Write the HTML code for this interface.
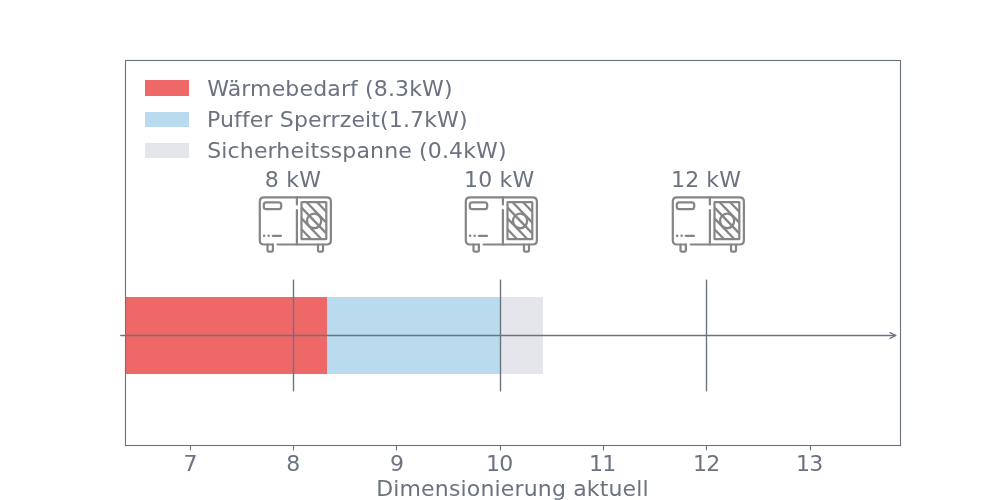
<!DOCTYPE html>
<html lang="de"><head><meta charset="utf-8"><title>Dimensionierung aktuell</title>
<style>
html,body{margin:0;padding:0;background:#fff;}
body{width:1000px;height:500px;overflow:hidden;}
svg{display:block;}
text{letter-spacing:0.14px;font-variant-ligatures:none;font-feature-settings:"liga" 0,"clig" 0;font-family:"DejaVu Sans","Liberation Sans",sans-serif;font-size:22px;fill:#6b7280;}
</style></head><body>
<svg width="1000" height="500" viewBox="0 0 1000 500">
<defs><filter id="ib" x="-10%" y="-10%" width="120%" height="120%"><feGaussianBlur stdDeviation="0.45"/></filter></defs>
<rect width="1000" height="500" fill="#fff"/>

<rect x="125" y="297" width="202" height="77" fill="#ef6868"/>
<rect x="327" y="297" width="173" height="77" fill="#b9dbed"/>
<rect x="500" y="297" width="43" height="77" fill="#e4e6eb"/>
<line x1="190.5" y1="445.5" x2="190.5" y2="450.361" stroke="#6b7280" stroke-width="1.111"/>
<text x="190.40" style="letter-spacing:0.0px" y="471" text-anchor="middle">7</text>
<line x1="293.5" y1="445.5" x2="293.5" y2="450.361" stroke="#6b7280" stroke-width="1.111"/>
<text x="293.23" style="letter-spacing:0.0px" y="471" text-anchor="middle">8</text>
<line x1="396.5" y1="445.5" x2="396.5" y2="450.361" stroke="#6b7280" stroke-width="1.111"/>
<text x="397.07" style="letter-spacing:0.0px" y="471" text-anchor="middle">9</text>
<line x1="500.5" y1="445.5" x2="500.5" y2="450.361" stroke="#6b7280" stroke-width="1.111"/>
<text x="499.15" style="letter-spacing:-0.9px" y="471" text-anchor="middle">10</text>
<line x1="603.5" y1="445.5" x2="603.5" y2="450.361" stroke="#6b7280" stroke-width="1.111"/>
<text x="602.23" style="letter-spacing:-0.8px" y="471" text-anchor="middle">11</text>
<line x1="706.5" y1="445.5" x2="706.5" y2="450.361" stroke="#6b7280" stroke-width="1.111"/>
<text x="706.32" style="letter-spacing:-0.8px" y="471" text-anchor="middle">12</text>
<line x1="810.5" y1="445.5" x2="810.5" y2="450.361" stroke="#6b7280" stroke-width="1.111"/>
<text x="809.15" style="letter-spacing:-0.9px" y="471" text-anchor="middle">13</text>
<text x="512.50" style="letter-spacing:0.16px" y="496" text-anchor="middle">Dimensionierung aktuell</text>
<line x1="293.5" y1="280.291" x2="293.5" y2="390.741" stroke="#6b7280" stroke-width="1.389" stroke-linecap="square"/>
<text x="292.98" style="letter-spacing:0.18px" y="187" text-anchor="middle">8 kW</text>
<line x1="500.5" y1="280.291" x2="500.5" y2="390.741" stroke="#6b7280" stroke-width="1.389" stroke-linecap="square"/>
<text x="499.15" style="letter-spacing:0.18px" y="187" text-anchor="middle">10 kW</text>
<line x1="706.5" y1="280.291" x2="706.5" y2="390.741" stroke="#6b7280" stroke-width="1.389" stroke-linecap="square"/>
<text x="706.07" style="letter-spacing:0.08px" y="187" text-anchor="middle">12 kW</text>
<rect x="125.5" y="60.5" width="775" height="385" fill="none" stroke="#6b7280" stroke-width="1.111"/>
<path d="M 120.8 335.500 L 895.669 335.500" fill="none" stroke="#6b7280" stroke-width="1.389" stroke-linecap="round"/>
<path d="M 890.109 332.720 L 895.669 335.500 L 890.109 338.280" fill="none" stroke="#6b7280" stroke-width="1.389" stroke-linecap="round" stroke-linejoin="round"/>
<rect x="145" y="80" width="44" height="16" fill="#ef6868"/>
<text x="207.22" y="96">Wärmebedarf (8.3kW)</text>
<rect x="145" y="112" width="44" height="15" fill="#b9dbed"/>
<text x="206.97" y="127">Puffer Sperrzeit(1.7kW)</text>
<rect x="145" y="143" width="44" height="15" fill="#e4e6eb"/>
<text x="207.22" y="158">Sicherheitsspanne (0.4kW)</text>
<g transform="translate(0,0)" filter="url(#ib)" fill="none" stroke="#858585" stroke-width="2.2" stroke-linecap="round" stroke-linejoin="round">
<path d="M 277.6 244.5 L 326.599 244.5 Q 330.9 244.5 330.9 240.2 L 330.9 201.600 Q 330.9 197.3 326.599 197.3 L 264.1 197.3 Q 259.8 197.3 259.8 201.600 L 259.8 240.2 Q 259.8 244.5 264.1 244.5 L 272.9 244.5"/>
<path d="M 267.5 244.5 L 267.5 250.6 Q 267.5 251.6 268.5 251.6 L 271.9 251.6 Q 272.9 251.6 272.9 250.6 L 272.9 244.5"/>
<path d="M 318.0 244.5 L 318.0 250.6 Q 318.0 251.6 319.0 251.6 L 322.0 251.6 Q 323.0 251.6 323.0 250.6 L 323.0 244.5"/>
<path d="M 296.9 197.3 L 296.9 204.4 M 296.9 210.0 L 296.9 244.5"/>
<rect x="263.8" y="202.3" width="17.4" height="6.9" rx="2.4" ry="2.4"/>
<path d="M 272.8 235.8 L 281.0 235.8"/><path d="M 264.1 235.8 L 264.15 235.8 M 268.6 235.8 L 268.65 235.8" stroke-width="2.5"/>
<rect x="301.5" y="202.2" width="24.80" height="37.00" rx="0.4"/>
<path d="M 317.08 202.20 L 326.30 211.79" stroke-linecap="butt" stroke-width="2.3"/>
<path d="M 306.69 202.20 L 326.30 222.59" stroke-linecap="butt" stroke-width="2.3"/>
<path d="M 301.50 207.60 L 326.30 233.39" stroke-linecap="butt" stroke-width="2.3"/>
<path d="M 301.50 218.40 L 321.50 239.20" stroke-linecap="butt" stroke-width="2.3"/>
<path d="M 301.50 229.20 L 311.12 239.20" stroke-linecap="butt" stroke-width="2.3"/>
<ellipse cx="314.1" cy="220.9" rx="7.05" ry="7.35" stroke-width="2.3"/>
</g>
<g transform="translate(206,0)" filter="url(#ib)" fill="none" stroke="#858585" stroke-width="2.2" stroke-linecap="round" stroke-linejoin="round">
<path d="M 277.6 244.5 L 326.599 244.5 Q 330.9 244.5 330.9 240.2 L 330.9 201.600 Q 330.9 197.3 326.599 197.3 L 264.1 197.3 Q 259.8 197.3 259.8 201.600 L 259.8 240.2 Q 259.8 244.5 264.1 244.5 L 272.9 244.5"/>
<path d="M 267.5 244.5 L 267.5 250.6 Q 267.5 251.6 268.5 251.6 L 271.9 251.6 Q 272.9 251.6 272.9 250.6 L 272.9 244.5"/>
<path d="M 318.0 244.5 L 318.0 250.6 Q 318.0 251.6 319.0 251.6 L 322.0 251.6 Q 323.0 251.6 323.0 250.6 L 323.0 244.5"/>
<path d="M 296.9 197.3 L 296.9 204.4 M 296.9 210.0 L 296.9 244.5"/>
<rect x="263.8" y="202.3" width="17.4" height="6.9" rx="2.4" ry="2.4"/>
<path d="M 272.8 235.8 L 281.0 235.8"/><path d="M 264.1 235.8 L 264.15 235.8 M 268.6 235.8 L 268.65 235.8" stroke-width="2.5"/>
<rect x="301.5" y="202.2" width="24.80" height="37.00" rx="0.4"/>
<path d="M 317.08 202.20 L 326.30 211.79" stroke-linecap="butt" stroke-width="2.3"/>
<path d="M 306.69 202.20 L 326.30 222.59" stroke-linecap="butt" stroke-width="2.3"/>
<path d="M 301.50 207.60 L 326.30 233.39" stroke-linecap="butt" stroke-width="2.3"/>
<path d="M 301.50 218.40 L 321.50 239.20" stroke-linecap="butt" stroke-width="2.3"/>
<path d="M 301.50 229.20 L 311.12 239.20" stroke-linecap="butt" stroke-width="2.3"/>
<ellipse cx="314.1" cy="220.9" rx="7.05" ry="7.35" stroke-width="2.3"/>
</g>
<g transform="translate(413,0)" filter="url(#ib)" fill="none" stroke="#858585" stroke-width="2.2" stroke-linecap="round" stroke-linejoin="round">
<path d="M 277.6 244.5 L 326.599 244.5 Q 330.9 244.5 330.9 240.2 L 330.9 201.600 Q 330.9 197.3 326.599 197.3 L 264.1 197.3 Q 259.8 197.3 259.8 201.600 L 259.8 240.2 Q 259.8 244.5 264.1 244.5 L 272.9 244.5"/>
<path d="M 267.5 244.5 L 267.5 250.6 Q 267.5 251.6 268.5 251.6 L 271.9 251.6 Q 272.9 251.6 272.9 250.6 L 272.9 244.5"/>
<path d="M 318.0 244.5 L 318.0 250.6 Q 318.0 251.6 319.0 251.6 L 322.0 251.6 Q 323.0 251.6 323.0 250.6 L 323.0 244.5"/>
<path d="M 296.9 197.3 L 296.9 204.4 M 296.9 210.0 L 296.9 244.5"/>
<rect x="263.8" y="202.3" width="17.4" height="6.9" rx="2.4" ry="2.4"/>
<path d="M 272.8 235.8 L 281.0 235.8"/><path d="M 264.1 235.8 L 264.15 235.8 M 268.6 235.8 L 268.65 235.8" stroke-width="2.5"/>
<rect x="301.5" y="202.2" width="24.80" height="37.00" rx="0.4"/>
<path d="M 317.08 202.20 L 326.30 211.79" stroke-linecap="butt" stroke-width="2.3"/>
<path d="M 306.69 202.20 L 326.30 222.59" stroke-linecap="butt" stroke-width="2.3"/>
<path d="M 301.50 207.60 L 326.30 233.39" stroke-linecap="butt" stroke-width="2.3"/>
<path d="M 301.50 218.40 L 321.50 239.20" stroke-linecap="butt" stroke-width="2.3"/>
<path d="M 301.50 229.20 L 311.12 239.20" stroke-linecap="butt" stroke-width="2.3"/>
<ellipse cx="314.1" cy="220.9" rx="7.05" ry="7.35" stroke-width="2.3"/>
</g>
</svg></body></html>
